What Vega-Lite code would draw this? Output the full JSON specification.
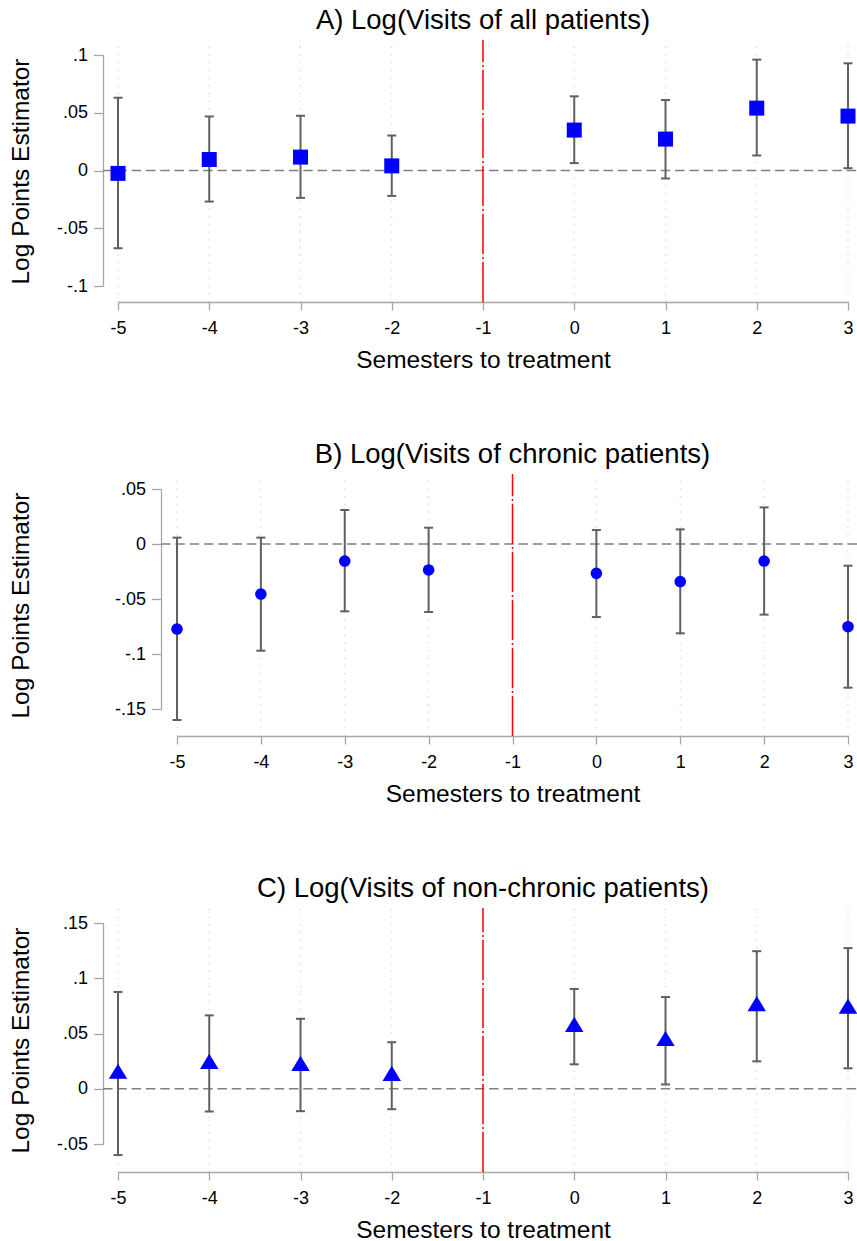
{
  "$schema": "https://vega.github.io/schema/vega-lite/v6.json",
  "padding": {"left": 8, "top": 6, "right": 0, "bottom": 0},
  "background": "white",
  "datasets": {
    "semesters": [{"semester": -5}, {"semester": -4}, {"semester": -3}, {"semester": -2}, {"semester": -1}, {"semester": 0}, {"semester": 1}, {"semester": 2}, {"semester": 3}],
    "A": [
      {"semester": -5, "estimate": -0.0025, "lower": -0.0673, "upper": 0.063},
      {"semester": -4, "estimate": 0.0095, "lower": -0.0269, "upper": 0.0468},
      {"semester": -3, "estimate": 0.0116, "lower": -0.0237, "upper": 0.0474},
      {"semester": -2, "estimate": 0.004, "lower": -0.022, "upper": 0.0303},
      {"semester": 0, "estimate": 0.035, "lower": 0.0064, "upper": 0.0642},
      {"semester": 1, "estimate": 0.0272, "lower": -0.0069, "upper": 0.061},
      {"semester": 2, "estimate": 0.054, "lower": 0.013, "upper": 0.096},
      {"semester": 3, "estimate": 0.0471, "lower": 0.002, "upper": 0.0928}
    ],
    "B": [
      {"semester": -5, "estimate": -0.0773, "lower": -0.16, "upper": 0.0058},
      {"semester": -4, "estimate": -0.0455, "lower": -0.097, "upper": 0.0058},
      {"semester": -3, "estimate": -0.0155, "lower": -0.0612, "upper": 0.0309},
      {"semester": -2, "estimate": -0.0236, "lower": -0.0618, "upper": 0.0148},
      {"semester": 0, "estimate": -0.0267, "lower": -0.0664, "upper": 0.0127},
      {"semester": 1, "estimate": -0.0342, "lower": -0.0812, "upper": 0.0133},
      {"semester": 2, "estimate": -0.0155, "lower": -0.0642, "upper": 0.0333},
      {"semester": 3, "estimate": -0.0752, "lower": -0.1306, "upper": -0.0197}
    ],
    "C": [
      {"semester": -5, "estimate": 0.0158, "lower": -0.06, "upper": 0.0876},
      {"semester": -4, "estimate": 0.0248, "lower": -0.0206, "upper": 0.0664},
      {"semester": -3, "estimate": 0.023, "lower": -0.0203, "upper": 0.0633},
      {"semester": -2, "estimate": 0.0139, "lower": -0.0185, "upper": 0.0421},
      {"semester": 0, "estimate": 0.0582, "lower": 0.0221, "upper": 0.0903},
      {"semester": 1, "estimate": 0.0455, "lower": 0.0039, "upper": 0.083},
      {"semester": 2, "estimate": 0.077, "lower": 0.0248, "upper": 0.1245},
      {"semester": 3, "estimate": 0.0748, "lower": 0.0185, "upper": 0.1273}
    ]
  },
  "concat": [
    {
      "width": 730,
      "height": 231,
      "title": {"text": "A) Log(Visits of all patients)"},
      "layer": [
        {
          "data": {"name": "semesters"},
          "mark": {"type": "rule", "color": "#c4c4c4", "strokeWidth": 1, "strokeDash": [1.2, 6.5]},
          "encoding": {
            "x": {"field": "semester", "type": "quantitative",
              "scale": {"domain": [-5, 3], "nice": false, "zero": false},
              "axis": {"values": [-5, -4, -3, -2, -1, 0, 1, 2, 3], "labelExpr": "datum.value + ''", "offset": 16, "title": "Semesters to treatment"}},
            "y": {"datum": -0.1139, "type": "quantitative",
              "scale": {"domain": [-0.1, 0.1], "nice": false, "zero": false},
              "axis": {"values": [-0.1, -0.05, 0, 0.05, 0.1], "labelExpr": "replace(datum.value + '', regexp('^(-?)0[.]'), '$1.')", "offset": 15, "title": "Log Points Estimator", "titlePadding": 23, "titleY": 116}},
            "y2": {"datum": 0.113}
          }
        },
        {
          "data": {"values": [{}]},
          "mark": {"type": "rule", "color": "#808080", "strokeWidth": 1.5, "strokeDash": [9.5, 4.8]},
          "encoding": {"x": {"datum": -5.164}, "x2": {"datum": 3.1}, "y": {"datum": 0}}
        },
        {
          "data": {"values": [{}]},
          "mark": {"type": "rule", "color": "#ff0000", "strokeWidth": 1.5, "strokeDash": [40, 3, 2, 3]},
          "encoding": {"x": {"datum": -1}, "y": {"datum": -0.1139}, "y2": {"datum": 0.113}}
        },
        {
          "data": {"name": "A"},
          "mark": {"type": "rule", "color": "#606060", "strokeWidth": 2},
          "encoding": {"x": {"field": "semester", "type": "quantitative"}, "y": {"field": "lower", "type": "quantitative"}, "y2": {"field": "upper"}}
        },
        {
          "data": {"name": "A"},
          "mark": {"type": "tick", "orient": "horizontal", "color": "#606060", "size": 9, "thickness": 2, "opacity": 1},
          "encoding": {"x": {"field": "semester", "type": "quantitative"}, "y": {"field": "lower", "type": "quantitative"}}
        },
        {
          "data": {"name": "A"},
          "mark": {"type": "tick", "orient": "horizontal", "color": "#606060", "size": 9, "thickness": 2, "opacity": 1},
          "encoding": {"x": {"field": "semester", "type": "quantitative"}, "y": {"field": "upper", "type": "quantitative"}}
        },
        {
          "data": {"name": "A"},
          "mark": {"type": "point", "shape": "square", "size": 225, "filled": true, "color": "#0000ff", "opacity": 1},
          "encoding": {"x": {"field": "semester", "type": "quantitative"}, "y": {"field": "estimate", "type": "quantitative"}}
        }
      ]
    },
    {
      "width": 730,
      "height": 220,
      "title": {"text": "B) Log(Visits of chronic patients)", "dx": 29.5},
      "layer": [
        {
          "data": {"name": "semesters"},
          "mark": {"type": "rule", "color": "#c4c4c4", "strokeWidth": 1, "strokeDash": [1.2, 6.5]},
          "encoding": {
            "x": {"field": "semester", "type": "quantitative",
              "scale": {"domain": [-5, 3], "range": [59, 730], "nice": false, "zero": false},
              "axis": {"values": [-5, -4, -3, -2, -1, 0, 1, 2, 3], "labelExpr": "datum.value + ''", "offset": 27, "title": "Semesters to treatment"}},
            "y": {"datum": -0.1745, "type": "quantitative",
              "scale": {"domain": [-0.15, 0.05], "nice": false, "zero": false},
              "axis": {"values": [-0.15, -0.1, -0.05, 0, 0.05], "labelExpr": "replace(datum.value + '', regexp('^(-?)0[.]'), '$1.')", "offset": -43, "title": "Log Points Estimator", "titlePadding": 81, "titleY": 116}},
            "y2": {"datum": 0.0636}
          }
        },
        {
          "data": {"values": [{}]},
          "mark": {"type": "rule", "color": "#808080", "strokeWidth": 1.5, "strokeDash": [9.5, 4.8]},
          "encoding": {"x": {"datum": -5.19}, "x2": {"datum": 3.11}, "y": {"datum": 0}}
        },
        {
          "data": {"values": [{}]},
          "mark": {"type": "rule", "color": "#ff0000", "strokeWidth": 1.5, "strokeDash": [40, 3, 2, 3]},
          "encoding": {"x": {"datum": -1}, "y": {"datum": -0.1745}, "y2": {"datum": 0.0636}}
        },
        {
          "data": {"name": "B"},
          "mark": {"type": "rule", "color": "#606060", "strokeWidth": 2},
          "encoding": {"x": {"field": "semester", "type": "quantitative"}, "y": {"field": "lower", "type": "quantitative"}, "y2": {"field": "upper"}}
        },
        {
          "data": {"name": "B"},
          "mark": {"type": "tick", "orient": "horizontal", "color": "#606060", "size": 9, "thickness": 2, "opacity": 1},
          "encoding": {"x": {"field": "semester", "type": "quantitative"}, "y": {"field": "lower", "type": "quantitative"}}
        },
        {
          "data": {"name": "B"},
          "mark": {"type": "tick", "orient": "horizontal", "color": "#606060", "size": 9, "thickness": 2, "opacity": 1},
          "encoding": {"x": {"field": "semester", "type": "quantitative"}, "y": {"field": "upper", "type": "quantitative"}}
        },
        {
          "data": {"name": "B"},
          "mark": {"type": "point", "shape": "circle", "size": 135, "filled": true, "color": "#0000ff", "opacity": 1},
          "encoding": {"x": {"field": "semester", "type": "quantitative"}, "y": {"field": "estimate", "type": "quantitative"}}
        }
      ]
    },
    {
      "width": 730,
      "height": 221,
      "title": {"text": "C) Log(Visits of non-chronic patients)"},
      "layer": [
        {
          "data": {"name": "semesters"},
          "mark": {"type": "rule", "color": "#c4c4c4", "strokeWidth": 1, "strokeDash": [1.2, 6.5]},
          "encoding": {
            "x": {"field": "semester", "type": "quantitative",
              "scale": {"domain": [-5, 3], "nice": false, "zero": false},
              "axis": {"values": [-5, -4, -3, -2, -1, 0, 1, 2, 3], "labelExpr": "datum.value + ''", "offset": 28, "title": "Semesters to treatment"}},
            "y": {"datum": -0.0753, "type": "quantitative",
              "scale": {"domain": [-0.05, 0.15], "nice": false, "zero": false},
              "axis": {"values": [-0.05, 0, 0.05, 0.1, 0.15], "labelExpr": "replace(datum.value + '', regexp('^(-?)0[.]'), '$1.')", "offset": 15, "title": "Log Points Estimator", "titlePadding": 23, "titleY": 117}},
            "y2": {"datum": 0.1636}
          }
        },
        {
          "data": {"values": [{}]},
          "mark": {"type": "rule", "color": "#808080", "strokeWidth": 1.5, "strokeDash": [9.5, 4.8]},
          "encoding": {"x": {"datum": -5.164}, "x2": {"datum": 3.1}, "y": {"datum": 0}}
        },
        {
          "data": {"values": [{}]},
          "mark": {"type": "rule", "color": "#ff0000", "strokeWidth": 1.5, "strokeDash": [40, 3, 2, 3]},
          "encoding": {"x": {"datum": -1}, "y": {"datum": -0.0753}, "y2": {"datum": 0.1636}}
        },
        {
          "data": {"name": "C"},
          "mark": {"type": "rule", "color": "#606060", "strokeWidth": 2},
          "encoding": {"x": {"field": "semester", "type": "quantitative"}, "y": {"field": "lower", "type": "quantitative"}, "y2": {"field": "upper"}}
        },
        {
          "data": {"name": "C"},
          "mark": {"type": "tick", "orient": "horizontal", "color": "#606060", "size": 9, "thickness": 2, "opacity": 1},
          "encoding": {"x": {"field": "semester", "type": "quantitative"}, "y": {"field": "lower", "type": "quantitative"}}
        },
        {
          "data": {"name": "C"},
          "mark": {"type": "tick", "orient": "horizontal", "color": "#606060", "size": 9, "thickness": 2, "opacity": 1},
          "encoding": {"x": {"field": "semester", "type": "quantitative"}, "y": {"field": "upper", "type": "quantitative"}}
        },
        {
          "data": {"name": "C"},
          "mark": {"type": "point", "shape": "M0,-0.82L1,0.82L-1,0.82Z", "size": 342, "filled": true, "color": "#0000ff", "opacity": 1},
          "encoding": {"x": {"field": "semester", "type": "quantitative"}, "y": {"field": "estimate", "type": "quantitative"}}
        }
      ]
    }
  ],
  "columns": 1,
  "align": "none",
  "bounds": "full",
  "spacing": 68,
  "config": {
    "view": {"stroke": null},
    "font": "Liberation Sans",
    "title": {"fontSize": 27.5, "fontWeight": "normal", "color": "#000000", "font": "Liberation Sans", "frame": "group", "anchor": "middle", "offset": 5},
    "axis": {
      "grid": false,
      "domainColor": "#a6a6a6", "domainWidth": 1.3,
      "tickColor": "#a6a6a6", "tickWidth": 1.3,
      "labelColor": "#000000", "labelFont": "Liberation Sans", "labelFontSize": 18,
      "titleColor": "#000000", "titleFont": "Liberation Sans", "titleFontSize": 24.5, "titleFontWeight": "normal",
      "labelOverlap": false, "labelFlush": false
    },
    "axisX": {"tickSize": 8, "labelPadding": 9, "titlePadding": 11},
    "axisY": {"tickSize": 9.5, "labelPadding": 6}
  }
}
